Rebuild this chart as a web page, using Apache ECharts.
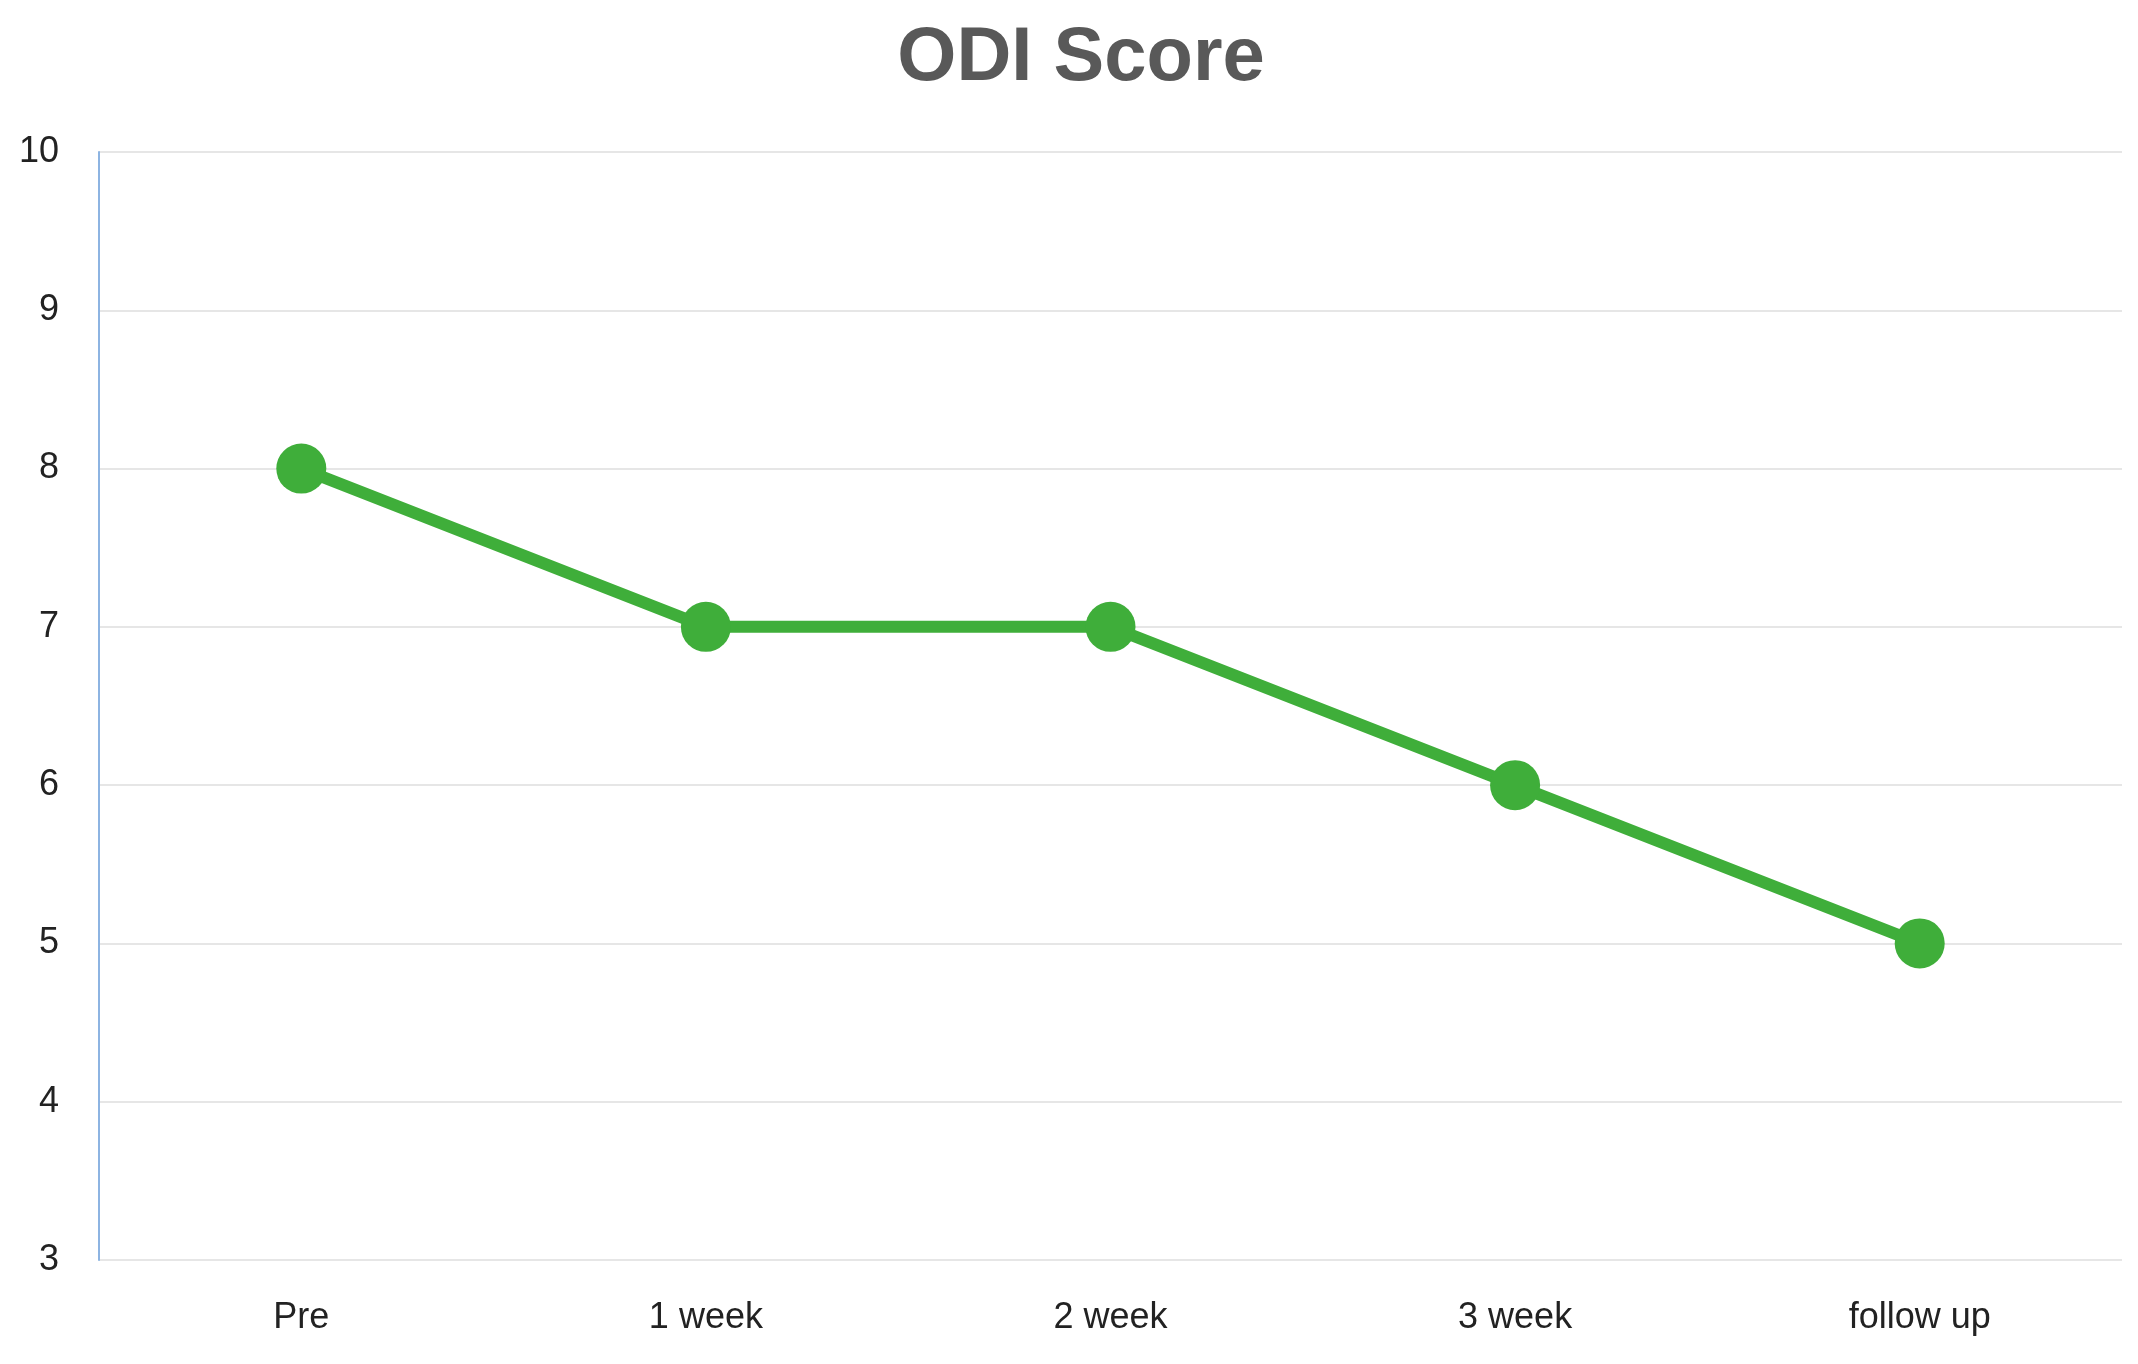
<!DOCTYPE html>
<html>
<head>
<meta charset="utf-8">
<script src="https://cdn.jsdelivr.net/npm/echarts@6/dist/echarts.min.js"></script>
<style>html,body{margin:0;padding:0;background:#fff}#chart{width:2138px;height:1364px}</style>
</head>
<body>
<div id="chart"></div>
<script>
// ODI score over time
var categories = ['Pre', '1 week', '2 week', '3 week', 'follow up'];
var odiScores = [8, 7, 7, 6, 5];

var myChart = echarts.init(document.getElementById('chart'));
var option = {
  backgroundColor: '#fff',
  title: {
    text: 'ODI Score',
    left: 1076, top: 16, textAlign: 'center',
    textStyle: {fontFamily: 'Liberation Sans, Arial', fontSize: 76, fontWeight: 'bold', color: '#595959'}
  },
  grid: {left: 99, right: 16, top: 152, bottom: 104},
  xAxis: {
    type: 'category',
    data: categories,
    boundaryGap: true,
    axisLine: {show: false},
    axisTick: {show: false},
    axisLabel: {fontFamily: 'Liberation Sans, Arial', fontSize: 36, color: '#222', margin: 40}
  },
  yAxis: {
    type: 'value',
    min: 3, max: 10, interval: 1,
    axisLine: {show: true, lineStyle: {color: '#8db4e2', width: 2}},
    axisTick: {show: false},
    axisLabel: {fontFamily: 'Liberation Sans, Arial', fontSize: 36, color: '#222', margin: 40},
    splitLine: {lineStyle: {color: '#e6e6e6', width: 2}}
  },
  series: [{
    type: 'line',
    data: odiScores,
    symbol: 'circle',
    symbolSize: 50,
    lineStyle: {color: '#3fae3a', width: 12},
    itemStyle: {color: '#3fae3a'}
  }]
};
myChart.setOption(option);
</script>
</body>
</html>
